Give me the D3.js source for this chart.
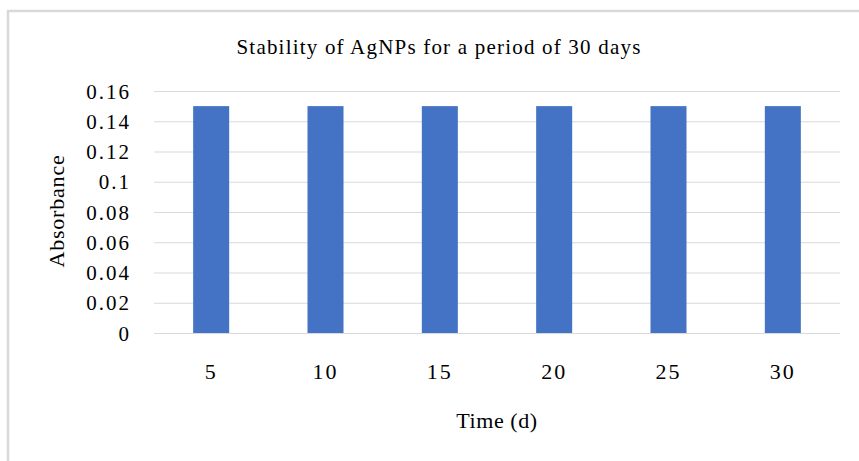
<!DOCTYPE html>
<html>
<head>
<meta charset="utf-8">
<script src="https://cdn.jsdelivr.net/npm/d3@7"></script>
<style>
  body { margin: 0; background: #fff; }
  text { font-family: "Liberation Serif", "Times New Roman", serif; fill: #000; }
</style>
</head>
<body>
<svg width="859" height="461"></svg>
<script>
let days = ["5", "10", "15", "20", "25", "30"];
let absorbance = [0.15, 0.15, 0.15, 0.15, 0.15, 0.15];
let yTicks = [0, 0.02, 0.04, 0.06, 0.08, 0.1, 0.12, 0.14, 0.16];

let svg = d3.select("svg"),
    width = +svg.attr("width"),
    height = +svg.attr("height");

let margin = {top: 91, right: 19, bottom: 128, left: 154};

// chart frame (left + top edges only are visible)
svg.append("path")
  .attr("d", `M8,${height} V11 H${width}`)
  .attr("fill", "none")
  .attr("stroke", "#d9d9d9")
  .attr("stroke-width", 2.5);

let x = d3.scaleBand()
  .domain(days)
  .range([margin.left, width - margin.right])
  .paddingInner(0.685)
  .paddingOuter(0.3425);

let y = d3.scaleLinear()
  .domain([0, 0.16])
  .range([height - margin.bottom, margin.top]);

svg.append("g")
  .attr("class", "grid")
  .selectAll("line")
  .data(yTicks)
  .enter().append("line")
  .attr("x1", margin.left)
  .attr("x2", width - margin.right)
  .attr("y1", d => y(d) + 0.5)
  .attr("y2", d => y(d) + 0.5)
  .attr("stroke", "#d9d9d9")
  .attr("stroke-width", 1);

svg.append("g")
  .selectAll("rect")
  .data(absorbance)
  .enter().append("rect")
  .attr("x", (d, i) => x(days[i]))
  .attr("y", d => y(d))
  .attr("width", x.bandwidth())
  .attr("height", d => y(0) - y(d))
  .attr("fill", "#4472c4");

let yAxis = svg.append("g")
  .attr("transform", `translate(${margin.left - 23},0)`)
  .call(d3.axisLeft(y).tickValues(yTicks).tickFormat(d => String(d)).tickSize(0).tickPadding(0));
yAxis.select(".domain").remove();
yAxis.selectAll("text")
  .style("font-family", "Liberation Serif")
  .style("font-size", "21px")
  .style("letter-spacing", "2px")
  .attr("dy", "0.34em");

let xAxis = svg.append("g")
  .attr("transform", `translate(0,${y(0)})`)
  .call(d3.axisBottom(x).tickSize(0).tickPadding(0));
xAxis.select(".domain").remove();
xAxis.selectAll("text")
  .style("font-family", "Liberation Serif")
  .style("font-size", "22px")
  .style("letter-spacing", "2px")
  .attr("dy", 0)
  .attr("x", 0)
  .attr("y", 46);

svg.append("text")
  .attr("x", 439)
  .attr("y", 54)
  .attr("text-anchor", "middle")
  .style("font-size", "21px")
  .style("letter-spacing", "1.2px")
  .text("Stability of AgNPs for a period of 30 days");

svg.append("text")
  .attr("x", 497)
  .attr("y", 428)
  .attr("text-anchor", "middle")
  .style("font-size", "22px")
  .style("letter-spacing", "0.6px")
  .text("Time (d)");

svg.append("text")
  .attr("transform", "translate(64,211) rotate(-90)")
  .attr("text-anchor", "middle")
  .style("font-size", "22px")
  .style("letter-spacing", "0.8px")
  .text("Absorbance");
</script>
</body>
</html>
